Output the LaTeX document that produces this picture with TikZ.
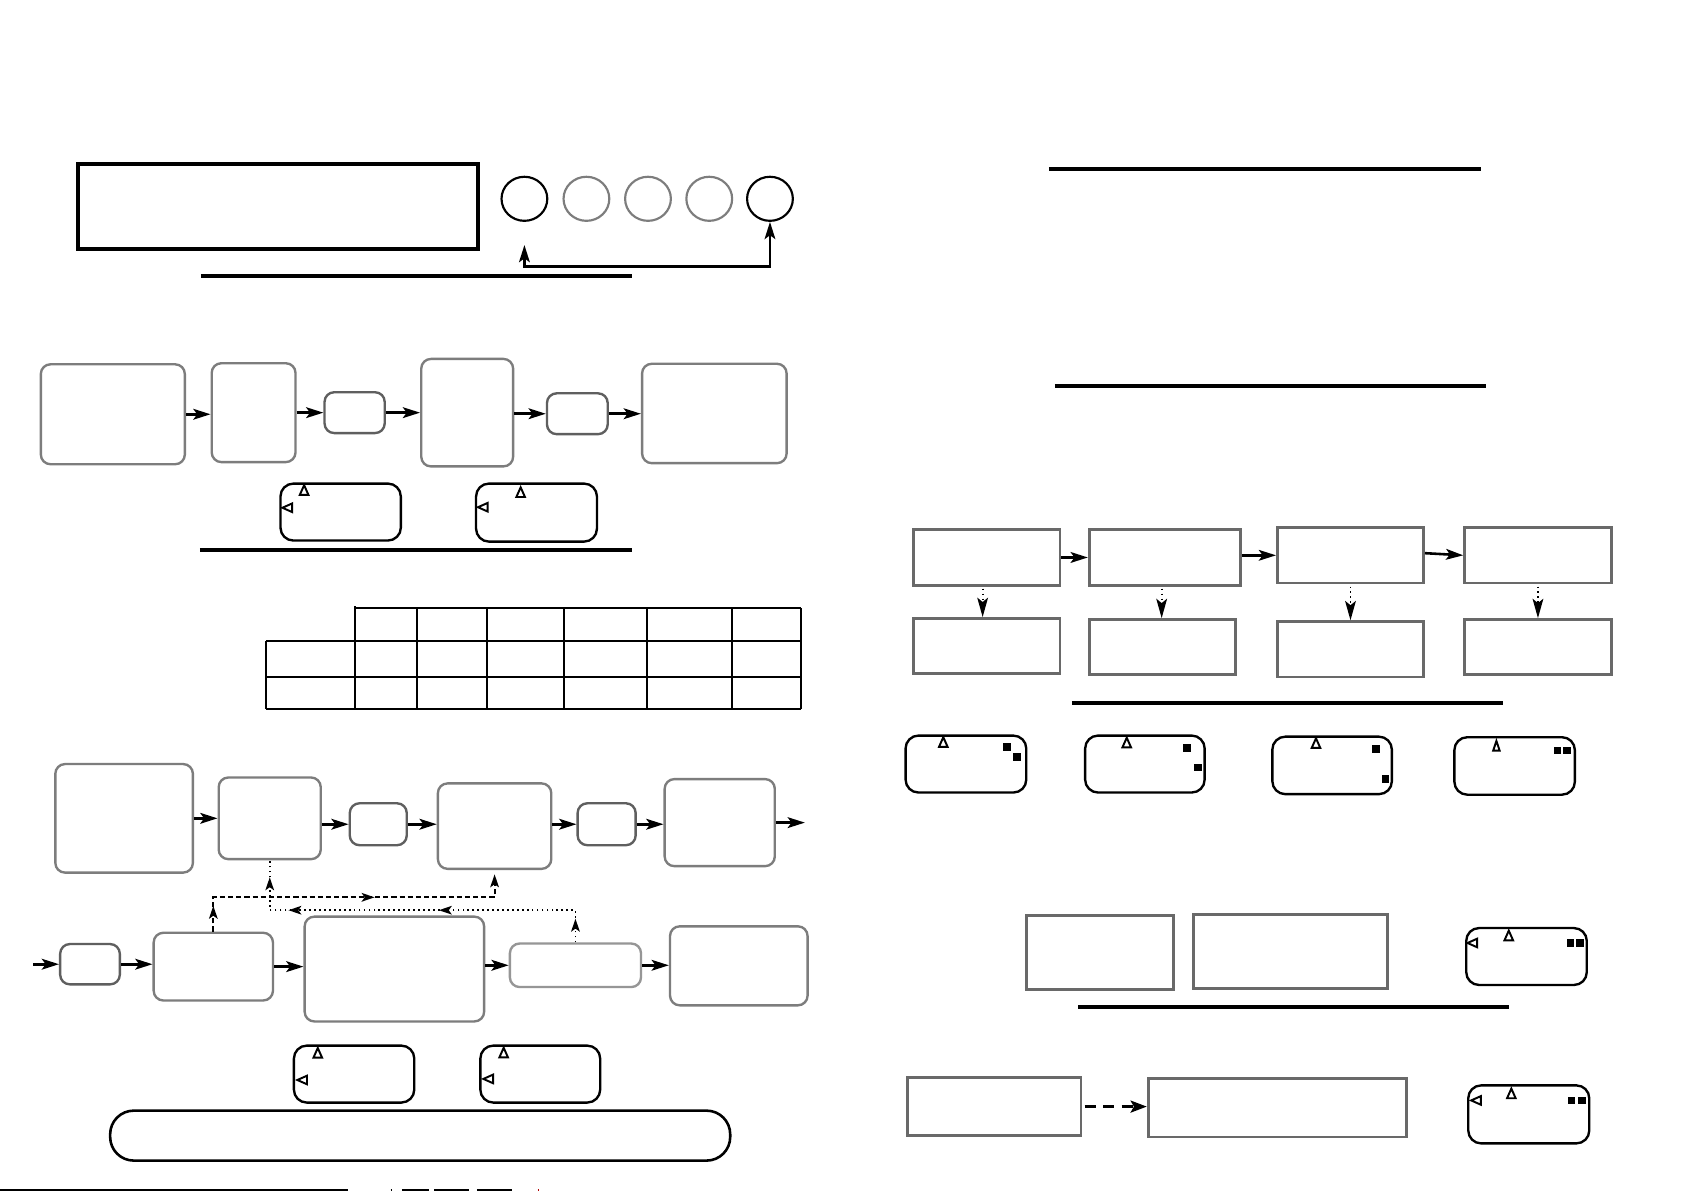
\documentclass[tikz,border=0pt]{standalone}
\usetikzlibrary{arrows.meta,shapes.geometric,decorations.markings}
\definecolor{boxgray}{RGB}{125,125,125}
\definecolor{boxdark}{RGB}{95,95,95}
\definecolor{boxlight}{RGB}{150,150,150}
\definecolor{rectgray}{RGB}{105,105,105}
\newcommand\mkbox[6]{\node[#1, minimum width={(#5-#3)*0.5pt}, minimum height={(#6-#4)*0.5pt}] (#2) at ({(#3+#5)/2},{(#4+#6)/2}) {};}
\newcommand\tup[2]{\draw[tri] ({#1-4},{#2+4.5}) -- ({#1},{#2-4.5}) -- ({#1+4},{#2+4.5}) -- cycle;}
\newcommand\tleft[2]{\draw[tri] ({#1+4.5},{#2-4}) -- ({#1-4.5},{#2}) -- ({#1+4.5},{#2+4}) -- cycle;}
\newcommand\sqr[2]{\fill ({#1-3.6},{#2-3.5}) rectangle ({#1+3.6},{#2+3.5});}
\tikzset{
  rbox/.style={draw=boxgray, line width=1.1pt, rounded corners=4.5pt, inner sep=0pt},
  rdark/.style={rbox, draw=boxdark},
  rlight/.style={rbox, draw=boxlight},
  sbox/.style={draw=rectgray, line width=1.3pt, inner sep=0pt},
  smallbox/.style={draw=black, line width=1.1pt, rounded corners=6pt, inner sep=0pt},
  bigbox/.style={draw=black, line width=1.9pt, inner sep=0pt},
  ring/.style={ellipse, draw=black, line width=1pt, inner sep=0pt, minimum width=21.3pt, minimum height=20.5pt},
  ringgray/.style={ring, draw=boxgray},
  bar/.style={line width=1.9pt, black},
  tbl/.style={line width=1pt, black},
  tri/.style={line width=0.9pt, black, line join=miter},
  arr/.style={line width=1.2pt, -{Stealth[length=8pt,width=5pt,inset=1.8pt]}},
  darr/.style={line width=1pt, dash pattern=on 2.4pt off 1.4pt},
  tarr/.style={line width=0.8pt, dash pattern=on 0.8pt off 1.5pt},
  stip/.style={-{Stealth[length=6pt,width=4pt,inset=1.4pt]}},
}
\begin{document}
\begin{tikzpicture}[x=0.5pt,y=-0.5pt]
\fill[white] (0,0) rectangle (1568,1108);
\useasboundingbox (0,0) rectangle (1568,1108);

% ---------- left top ----------
\mkbox{bigbox}{top}{73}{152.5}{445}{232}
\node[ring] (c1) at (488,185) {};
\node[ringgray] (c2) at (545.7,185) {};
\node[ringgray] (c3) at (603,185) {};
\node[ringgray] (c4) at (660,185) {};
\node[ring] (c5) at (716.5,185) {};
\coordinate (c1a) at (488,228);
\coordinate (cbot) at (600,248);
\draw[line width=1.1pt, {Stealth[length=8pt,width=5pt,inset=1.8pt]}-{Stealth[length=8pt,width=5pt,inset=1.8pt]}] (c1a) |- (cbot) -| (c5.south);
\draw[bar] (187,256.5) -- (588,256.5);

% ---------- flow 1 ----------
\mkbox{rbox}{A}{38}{339}{172}{432}
\mkbox{rbox}{B}{197}{338}{275}{430}
\mkbox{rdark}{C}{302}{365}{358}{403}
\mkbox{rbox}{D}{392}{334}{477.5}{434}
\mkbox{rdark}{E}{509}{366}{565.5}{404}
\mkbox{rbox}{F}{597.5}{338.5}{732}{431}
\draw[arr] (A.east) -- (A.east -| B.west);
\draw[arr] (B.east |- C.west) -- (C.west);
\draw[arr] (C.east) -- (C.east -| D.west);
\draw[arr] (D.east |- E.west) -- (E.west);
\draw[arr] (E.east) -- (E.east -| F.west);

\mkbox{smallbox}{sb1}{261}{450}{373}{503}
\mkbox{smallbox}{sb2}{443}{450}{555.5}{504}
\tup{283}{456} \tleft{267.3}{472.5}
\tup{484.5}{458} \tleft{449.3}{472}
\draw[bar] (186,511.5) -- (588,511.5);

% ---------- table ----------
\draw[tbl] (330,564) -- (330,660);
\draw[tbl] (330,566) -- (745.5,566);
\draw[tbl] (247.8,596.5) -- (745.5,596.5);
\draw[tbl] (247.8,629.7) -- (745.5,629.7);
\draw[tbl] (247.8,660) -- (745.5,660);
\draw[tbl] (247.8,596.5) -- (247.8,660);
\foreach \xx in {388,452.8,525.1,602.4,681,745.5} \draw[tbl] (\xx,566) -- (\xx,660);

% ---------- flow 2 ----------
\mkbox{rbox}{G}{51.5}{711}{179.5}{812}
\mkbox{rbox}{H}{203.5}{723.5}{298.5}{799.5}
\mkbox{rdark}{I}{325.5}{747.5}{378.5}{786.5}
\mkbox{rbox}{J}{407.5}{729}{513}{808.5}
\mkbox{rdark}{K}{537.5}{747.5}{591.5}{786.5}
\mkbox{rbox}{L}{618.5}{725}{721}{806}
\coordinate (Lout) at (749,765.5);
\draw[arr] (G.east) -- (G.east -| H.west);
\draw[arr] (H.east |- I.west) -- (I.west);
\draw[arr] (I.east) -- (I.east -| J.west);
\draw[arr] (J.east |- K.west) -- (K.west);
\draw[arr] (K.east) -- (K.east -| L.west);
\draw[arr] (L.east) -- (Lout);

\mkbox{rdark}{M}{56}{878.5}{111.5}{916}
\mkbox{rbox}{N}{143}{868}{254}{931}
\mkbox{rbox}{O}{283.5}{853}{450.5}{950.5}
\mkbox{rlight}{P}{474.5}{878}{596.5}{918.5}
\mkbox{rbox}{Q}{623.5}{862}{751.5}{935.5}
\coordinate (Min) at (31,897.25);
\draw[arr] (Min) -- (M.west);
\draw[arr] (M.east) -- (M.east -| N.west);
\draw[arr] (N.east) -- (N.east -| O.west);
\draw[arr] (O.east |- P.west) -- (P.west);
\draw[arr] (P.east) -- (P.east -| Q.west);

% dashed feedback
\coordinate (dmid) at (330,835);
\draw[darr, stip, postaction={decorate}, decoration={markings,
   mark=at position 12pt with {\arrow{Stealth[length=6pt,width=4pt,inset=1.4pt]}},
   mark=at position 91pt with {\arrow{Stealth[length=6pt,width=4pt,inset=1.4pt]}}}]
   (N.north) |- (dmid) -| ([yshift=-2pt]J.south);
% dotted feedback
\coordinate (tmid) at (400,847);
\draw[tarr, postaction={decorate}, decoration={markings,
   mark=at position 11pt with {\arrow{Stealth[length=6pt,width=4pt,inset=1.4pt]}},
   mark=at position 78.5pt with {\arrow{Stealth[length=6pt,width=4pt,inset=1.4pt]}},
   mark=at position 148.5pt with {\arrow{Stealth[length=6pt,width=4pt,inset=1.4pt]}},
   mark=at position 172.5pt with {\arrow{Stealth[length=6pt,width=4pt,inset=1.4pt]}}}]
   (P.north) |- (tmid) -| (H.south);

\mkbox{smallbox}{sb3}{273.5}{973}{385.5}{1026}
\mkbox{smallbox}{sb4}{447}{973}{558.5}{1026}
\tup{295.7}{979.7} \tleft{281.2}{1005}
\tup{468.7}{979.5} \tleft{454.3}{1004}
\mkbox{draw=black, line width=1.2pt, rounded corners=11pt, inner sep=0pt}{legend}{102.5}{1033.5}{679.5}{1080}

% bottom fragments
\draw[line width=0.9pt] (0,1107.3) -- (324,1107.3);
\draw[line width=0.9pt] (363.5,1107.3) -- (365,1107.3);
\draw[line width=0.9pt] (374,1107.3) -- (399,1107.3);
\draw[line width=0.9pt] (404,1107.3) -- (436.4,1107.3);
\draw[line width=0.9pt] (443.8,1107.3) -- (476.4,1107.3);
\draw[line width=0.9pt, red!70!black] (500.5,1107.3) -- (502,1107.3);

% ---------- right half ----------
\draw[bar] (976,157.3) -- (1378,157.3);
\draw[bar] (981.7,359.2) -- (1383,359.2);

\mkbox{sbox}{R1}{850}{493}{986.4}{544.5}
\mkbox{sbox}{R2}{1013.6}{493}{1154.4}{544.5}
\mkbox{sbox}{R3}{1188.7}{491}{1324.7}{542.5}
\mkbox{sbox}{R4}{1362.9}{491}{1499.4}{542.5}
\mkbox{sbox}{S1}{850}{575.5}{986.4}{626.5}
\mkbox{sbox}{S2}{1013.6}{576.5}{1149.6}{628}
\mkbox{sbox}{S3}{1188.7}{578.5}{1324.7}{630}
\mkbox{sbox}{S4}{1362.9}{576.5}{1499.4}{628}
\draw[arr] (R1.east) -- (R1.east -| R2.west);
\draw[arr] (R2.east |- R3.west) -- (R3.west);
\draw[arr] ([yshift=1pt]R3.east) -- (R4.west);
\tikzset{varr/.style={tarr, -{Stealth[length=9pt,width=5pt,inset=2pt]}}}
\draw[varr] ([xshift=-1.9pt,yshift=-1pt]R1.south) -- ([xshift=-1.9pt]R1.south |- S1.north);
\draw[varr] ([xshift=-1.5pt,yshift=-1pt]R2.south) -- ([xshift=-1.5pt]R2.south |- S2.north);
\draw[varr] ([yshift=-1pt]R3.south) -- (R3.south |- S3.north);
\draw[varr] ([yshift=-1pt]R4.south) -- (R4.south |- S4.north);

\draw[bar] (997.4,654) -- (1398.7,654);

\mkbox{smallbox}{w1}{842.7}{684.5}{955}{737.5}
\mkbox{smallbox}{w2}{1009.8}{684.5}{1121}{737.5}
\mkbox{smallbox}{w3}{1184}{685.5}{1295.2}{739}
\mkbox{smallbox}{w4}{1353.4}{686}{1465.5}{739.5}
\tup{877.8}{690.5} \sqr{937}{695} \sqr{946.1}{704.5}
\tup{1048.5}{691} \sqr{1104.3}{696} \sqr{1114.8}{714}
\tup{1224.6}{691.5} \sqr{1280.1}{697} \sqr{1289.4}{725}
\draw[tri] (1389.5,698.5) -- (1392.5,689.5) -- (1395.5,698.5) -- cycle;
\sqr{1449.3}{698.5} \sqr{1458.1}{698.5}

\mkbox{sbox}{T1}{955}{852}{1091.8}{920.5}
\mkbox{sbox}{T2}{1110.5}{851}{1291.4}{919.7}
\mkbox{smallbox}{w5}{1364.4}{863.6}{1476.6}{916.6}
\tleft{1370.1}{877.5} \tup{1404}{870.5} \sqr{1461.5}{877.5} \sqr{1470.3}{877.5}
\draw[bar] (1003.2,936.8) -- (1404.4,936.8);

\mkbox{sbox}{U1}{844.7}{1003}{1006}{1056.5}
\mkbox{sbox}{U2}{1068.5}{1003.8}{1309.1}{1058}
\draw[line width=1.6pt, dash pattern=on 5.2pt off 3.4pt, -{Stealth[length=7.5pt,width=5.5pt,inset=1.5pt]}] ([xshift=1pt]U1.east) -- (U1.east -| U2.west);
\mkbox{smallbox}{w6}{1366.3}{1010}{1478.9}{1064}
\tleft{1373.5}{1024} \tup{1406.4}{1017.5} \sqr{1462.4}{1024} \sqr{1472.2}{1024}
\end{tikzpicture}
\end{document}
